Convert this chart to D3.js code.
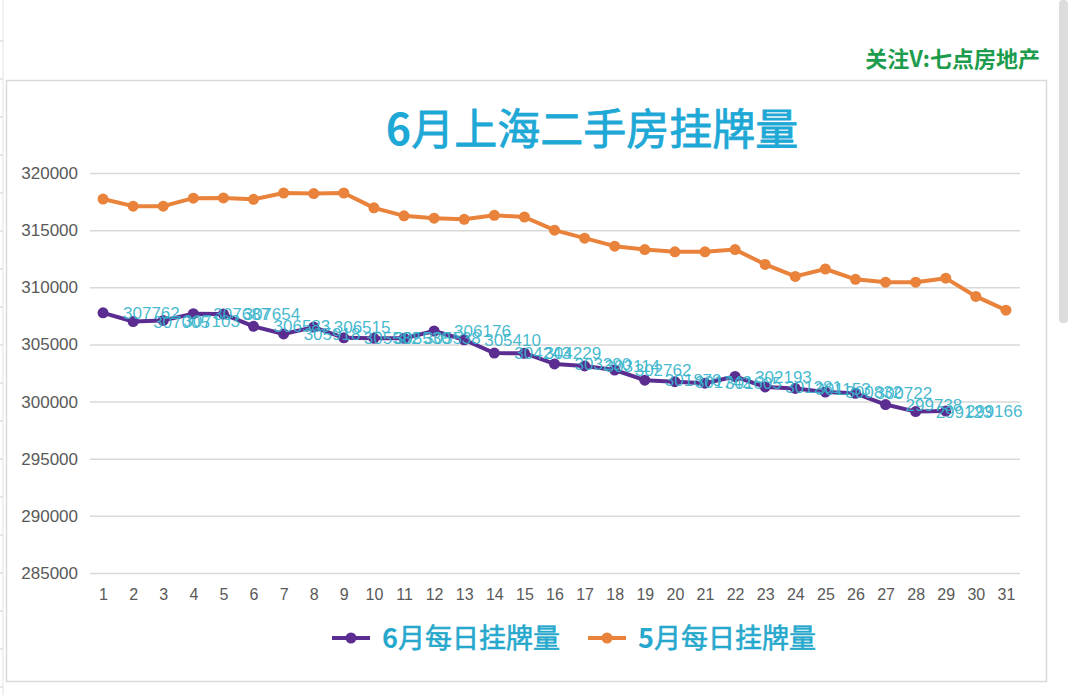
<!DOCTYPE html>
<html>
<head>
<meta charset="utf-8">
<script src="https://cdn.jsdelivr.net/npm/d3@7"></script>
<style>
  body { margin: 0; background: #fff; }
  svg text { font-family: "Liberation Sans", Arial, "Noto Sans CJK SC", sans-serif; }
  .cjk { font-family: "Noto Sans CJK SC", "Liberation Sans", sans-serif; }
</style>
</head>
<body>
<svg id="chart" width="1080" height="695"></svg>
<script>
// chart data
const days = d3.range(1, 32);
const juneValues = [307762, 307005, 307103, 307687, 307654, 306583, 305918, 306515, 305582, 305530,
                    305538, 306176, 305410, 304243, 304229, 303290, 303114, 302762, 301870, 301742,
                    301605, 302193, 301281, 301153, 300832, 300722, 299738, 299123, 299166];
const mayValues = [317720, 317100, 317100, 317800, 317820, 317700, 318250, 318200, 318250, 316950,
                   316250, 316050, 315950, 316300, 316150, 315000, 314300, 313600, 313300, 313100,
                   313100, 313300, 312000, 310950, 311600, 310700, 310450, 310450, 310800, 309200, 308000];
const yTicks = [285000, 290000, 295000, 300000, 305000, 310000, 315000, 320000];
const chartTitle = ["6", "月上海二手房挂牌量"];
const seriesNames = [["6", "月每日挂牌量"], ["5", "月每日挂牌量"]];
const watermark = "关注V:七点房地产";

const purple = "#5b2d90";
const orange = "#e9823a";
const labelColor = "#35b3cb";

const svg = d3.select("#chart");

// spreadsheet bits around the chart
svg.append("line").attr("x1", 3).attr("x2", 3).attr("y1", 0).attr("y2", 695)
  .attr("stroke", "#e3e3e3").attr("stroke-width", 1);
d3.range(41, 695, 38).forEach(yy => {
  svg.append("line").attr("x1", 0).attr("x2", 3).attr("y1", yy).attr("y2", yy)
    .attr("stroke", "#d0d0d0");
});
svg.append("rect").attr("x", 1059).attr("y", 0).attr("width", 9).attr("height", 323)
  .attr("rx", 4).attr("fill", "#dcdcdc");

// watermark
svg.append("text").attr("class", "cjk")
  .attr("x", 1040).attr("y", 67)
  .attr("text-anchor", "end")
  .attr("fill", "#1c9c4c")
  .style("font-size", "22px").style("font-weight", "bold")
  .text(watermark);

// chart frame
svg.append("rect").attr("x", 6.5).attr("y", 80.5).attr("width", 1040).attr("height", 601)
  .attr("fill", "#fff").attr("stroke", "#d9d9d9").attr("stroke-width", 1.5);

// title: bold digit, lighter CJK characters
const title = svg.append("text").attr("class", "cjk")
  .attr("x", 592).attr("y", 145)
  .attr("text-anchor", "middle")
  .attr("fill", "#1ea8d6")
  .style("font-size", "43px");
title.append("tspan").style("font-weight", "bold").text(chartTitle[0]);
title.append("tspan").attr("stroke", "#1ea8d6").attr("stroke-width", 0.8).text(chartTitle[1]);

// scales
const x = d3.scalePoint().domain(days).range([88, 1021]).padding(0.5);
const y = d3.scaleLinear().domain([285000, 320000]).range([573, 173]);

// gridlines + y labels
const yAxis = svg.append("g").attr("transform", "translate(90,0)")
  .call(d3.axisLeft(y).tickValues(yTicks).tickSize(-930).tickPadding(12).tickFormat(d3.format("d")));
yAxis.select(".domain").remove();
yAxis.selectAll(".tick line").attr("stroke", "#d9d9d9").attr("stroke-width", 1.5);
yAxis.selectAll(".tick text").attr("fill", "#595959").style("font-size", "17px")
  .style("font-family", "'Liberation Sans', Arial, sans-serif");

// x labels
const xAxis = svg.append("g").attr("transform", "translate(0,573)")
  .call(d3.axisBottom(x).tickSize(0).tickPadding(16));
xAxis.select(".domain").remove();
xAxis.selectAll(".tick text").attr("fill", "#595959").style("font-size", "16px")
  .style("font-family", "'Liberation Sans', Arial, sans-serif");

const line = d3.line().x((d, i) => x(days[i])).y(d => y(d));

function drawSeries(values, color) {
  svg.append("path").datum(values)
    .attr("d", line).attr("fill", "none")
    .attr("stroke", color).attr("stroke-width", 4)
    .attr("stroke-linejoin", "round");
  svg.append("g").selectAll("circle").data(values).enter().append("circle")
    .attr("cx", (d, i) => x(days[i])).attr("cy", d => y(d))
    .attr("r", 5.5).attr("fill", color);
}

drawSeries(mayValues, orange);
drawSeries(juneValues, purple);

// data labels for June series
svg.append("g").selectAll("text").data(juneValues).enter().append("text")
  .attr("x", (d, i) => x(days[i]) + 20)
  .attr("y", d => y(d))
  .attr("dy", "0.36em")
  .attr("fill", labelColor)
  .attr("fill-opacity", 0.92)
  .style("font-size", "17px")
  .text(d => d);

// legend
const legendItems = [
  { name: seriesNames[0], color: purple, x: 332 },
  { name: seriesNames[1], color: orange, x: 588 }
];
const legend = svg.append("g").attr("transform", "translate(0,638)");
legendItems.forEach(item => {
  legend.append("line").attr("x1", item.x).attr("x2", item.x + 38)
    .attr("stroke", item.color).attr("stroke-width", 4);
  legend.append("circle").attr("cx", item.x + 19).attr("r", 5.5).attr("fill", item.color);
  const t = legend.append("text").attr("class", "cjk")
    .attr("x", item.x + 50).attr("dy", "0.36em")
    .attr("fill", "#26a8cc")
    .style("font-size", "27px");
  t.append("tspan").style("font-weight", "bold").text(item.name[0]);
  t.append("tspan").attr("stroke", "#26a8cc").attr("stroke-width", 0.6).text(item.name[1]);
});
</script>
</body>
</html>
